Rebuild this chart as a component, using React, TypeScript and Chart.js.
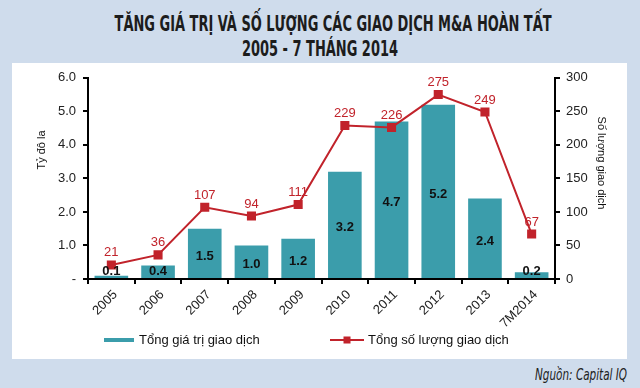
import React, { useEffect, useLayoutEffect, useRef } from "react";
import { Chart, registerables } from "chart.js";

Chart.register(...registerables);

const categories = ["2005", "2006", "2007", "2008", "2009", "2010", "2011", "2012", "2013", "7M2014"];
const dealValue = [0.1, 0.4, 1.5, 1.0, 1.2, 3.2, 4.7, 5.2, 2.4, 0.2];
const dealCount = [21, 36, 107, 94, 111, 229, 226, 275, 249, 67];

const titleLine1 = "TĂNG GIÁ TRỊ VÀ SỐ LƯỢNG CÁC GIAO DỊCH M&A HOÀN TẤT";
const titleLine2 = "2005 - 7 THÁNG 2014";
const valueLegend = "Tổng giá trị giao dịch";
const countLegend = "Tổng số lượng giao dịch";
const leftAxisTitle = "Tỷ đô la";
const rightAxisTitle = "Số lượng giao dịch";
const sourceText = "Nguồn: Capital IQ";

const TEAL = "#3b9dab";
const RED = "#c1232b";
const BG = "#cfdcec";
const AXIS_FONT = "'Liberation Sans', Arial, sans-serif";

const labelPlugin = {
  id: "customLabels",
  afterDatasetsDraw(chart: any) {
    const ctx = chart.ctx;
    ctx.save();
    ctx.textAlign = "center";
    ctx.textBaseline = "middle";
    const barMeta = chart.getDatasetMeta(1);
    ctx.font = `bold 13px ${AXIS_FONT}`;
    ctx.fillStyle = "#111";
    barMeta.data.forEach((bar: any, i: number) => {
      const p = bar.getProps(["x", "y", "base"], true);
      const ly = Math.min((p.y + p.base) / 2 + 3, p.base - 7);
      ctx.fillText(dealValue[i].toFixed(1), p.x, ly);
    });
    const lineMeta = chart.getDatasetMeta(0);
    ctx.font = `13px ${AXIS_FONT}`;
    ctx.fillStyle = RED;
    lineMeta.data.forEach((pt: any, i: number) => {
      ctx.fillText(String(dealCount[i]), pt.x, pt.y - 12);
    });
    ctx.restore();
  },
  afterDraw(chart: any) {
    const ctx = chart.ctx;
    const area = chart.chartArea;
    ctx.save();
    const ly = area.bottom + 61;
    ctx.lineWidth = 4;
    ctx.strokeStyle = TEAL;
    ctx.beginPath();
    ctx.moveTo(92, ly);
    ctx.lineTo(122, ly);
    ctx.stroke();
    ctx.font = `13px ${AXIS_FONT}`;
    ctx.fillStyle = "#111";
    ctx.textAlign = "left";
    ctx.textBaseline = "middle";
    ctx.fillText(valueLegend, 127, ly);

    ctx.lineWidth = 2;
    ctx.strokeStyle = RED;
    ctx.beginPath();
    ctx.moveTo(318, ly);
    ctx.lineTo(352, ly);
    ctx.stroke();
    ctx.fillStyle = RED;
    ctx.fillRect(335 - 3.5, ly - 3.5, 7, 7);
    ctx.fillStyle = "#111";
    ctx.fillText(countLegend, 356, ly);

    ctx.font = `11px ${AXIS_FONT}`;
    ctx.textAlign = "center";
    ctx.save();
    ctx.translate(30, 87);
    ctx.rotate(-Math.PI / 2);
    ctx.fillText(leftAxisTitle, 0, 0);
    ctx.restore();
    ctx.save();
    ctx.translate(589, 100);
    ctx.rotate(Math.PI / 2);
    ctx.fillText(rightAxisTitle, 0, 0);
    ctx.restore();
    ctx.restore();
  },
};

function ChartPanel() {
  const ref = useRef<HTMLCanvasElement | null>(null);
  useEffect(() => {
    if (!ref.current) return;
    const chart = new Chart(ref.current, {
      data: {
        labels: categories,
        datasets: [
          {
            type: "line",
            label: countLegend,
            data: dealCount,
            yAxisID: "y1",
            borderColor: RED,
            backgroundColor: RED,
            borderWidth: 2,
            pointStyle: "rect",
            pointRadius: 5,
            pointBackgroundColor: RED,
            pointBorderColor: RED,
            tension: 0,
            order: 0,
          } as any,
          {
            type: "bar",
            label: valueLegend,
            data: dealValue,
            yAxisID: "y",
            backgroundColor: TEAL,
            borderWidth: 0,
            order: 1,
          } as any,
        ],
      },
      options: {
        responsive: false,
        animation: false,
        layout: { padding: { top: 12, left: 0, right: 0, bottom: 0 } },
        plugins: {
          legend: { display: false },
          tooltip: { enabled: false },
          title: { display: false },
        },
        scales: {
          x: {
            type: "category",
            border: { display: true, color: "#000", width: 2 },
            grid: { display: true, drawOnChartArea: false, drawTicks: true, tickLength: 5, color: "#000", lineWidth: 2, offset: true },
            ticks: {
              color: "#222",
              font: { family: AXIS_FONT, size: 13 },
              minRotation: 45,
              maxRotation: 45,
              padding: 3,
              labelOffset: 4,
              autoSkip: false,
            },
            afterFit: (s: any) => {
              s.height = 80;
            },
          },
          y: {
            type: "linear",
            position: "left",
            min: 0,
            max: 6,
            border: { display: true, color: "#000", width: 2 },
            grid: { display: true, drawOnChartArea: false, drawTicks: true, tickLength: 5, color: "#000", lineWidth: 2 },
            ticks: {
              stepSize: 1,
              color: "#222",
              font: { family: AXIS_FONT, size: 13 },
              padding: 7,
              callback: (v: any) => (Number(v) === 0 ? "-" : Number(v).toFixed(1)),
            },
            afterFit: (s: any) => {
              s.width = 76;
            },
          },
          y1: {
            type: "linear",
            position: "right",
            min: 0,
            max: 300,
            border: { display: true, color: "#000", width: 2 },
            grid: { display: true, drawOnChartArea: false, drawTicks: true, tickLength: 5, color: "#000", lineWidth: 2 },
            ticks: {
              stepSize: 50,
              color: "#222",
              font: { family: AXIS_FONT, size: 13 },
              padding: 6,
            },
            afterFit: (s: any) => {
              s.width = 72;
            },
          },
        },
      } as any,
      plugins: [labelPlugin],
    });
    return () => chart.destroy();
  }, []);
  return <canvas ref={ref} width={615} height={296} style={{ display: "block" }} />;
}

export default function App() {
  const t1 = useRef<HTMLSpanElement | null>(null);
  const t2 = useRef<HTMLSpanElement | null>(null);
  const src = useRef<HTMLSpanElement | null>(null);
  useLayoutEffect(() => {
    if (t1.current && t2.current) {
      const s = 437 / t1.current.offsetWidth;
      t1.current.style.transform = `scaleX(${s})`;
      t2.current.style.transform = `scaleX(${s})`;
    }
    if (src.current) {
      const s = 92 / src.current.offsetWidth;
      src.current.style.transform = `scaleX(${s})`;
    }
  }, []);
  const titleFont: React.CSSProperties = {
    fontFamily: "'Liberation Sans Narrow', 'DejaVu Sans Condensed', sans-serif",
    fontWeight: "bold",
    fontSize: 22,
    color: "#1c1c1c",
    whiteSpace: "nowrap",
    display: "inline-block",
    transformOrigin: "center center",
    lineHeight: "22px",
  };
  return (
    <div style={{ position: "fixed", left: 0, top: 0, width: 640, height: 388, background: BG, overflow: "hidden" }}>
      <div style={{ position: "absolute", left: 0, top: 13, width: 640, textAlign: "center" }}>
        <span ref={t1} style={titleFont}>{titleLine1}</span>
      </div>
      <div style={{ position: "absolute", left: 0, top: 38, width: 640, textAlign: "center" }}>
        <span ref={t2} style={titleFont}>{titleLine2}</span>
      </div>
      <div style={{ position: "absolute", left: 12, top: 63, width: 615, height: 296, background: "#fff" }}>
        <ChartPanel />
      </div>
      <div style={{ position: "absolute", right: 13, top: 366, textAlign: "right" }}>
        <span
          ref={src}
          style={{
            fontFamily: "'Liberation Sans Narrow', 'DejaVu Sans Condensed', sans-serif",
            fontStyle: "italic",
            fontSize: 15,
            color: "#222",
            whiteSpace: "nowrap",
            display: "inline-block",
            transformOrigin: "right center",
            lineHeight: "18px",
          }}
        >
          {sourceText}
        </span>
      </div>
    </div>
  );
}
